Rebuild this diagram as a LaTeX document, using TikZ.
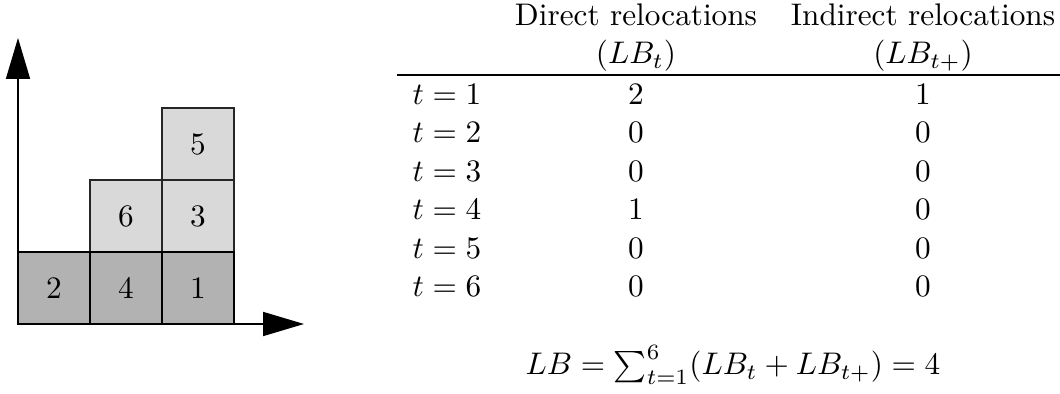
\documentclass[tikz,border=0pt]{standalone}
\usepackage{amsmath}
\usetikzlibrary{arrows.meta,positioning}
\tikzset{
  %% Stack slots
  slotUp/.style={draw=black!85, line width=0.4pt, fill=black!15,
    minimum size=23.04pt, inner sep=0pt},
  slotLow/.style={draw=black, line width=0.75pt, fill=black!30,
    minimum size=23.04pt, inner sep=0pt},
  %% Axes
  axisline/.style={line width=0.45pt, -{Triangle[length=13.1pt, width=7.7pt]}},
  %% Table cells
  cellc/.style={anchor=base, inner sep=0pt},
  celll/.style={anchor=base west, inner sep=0pt},
}
\begin{document}
\begin{tikzpicture}[x=0.32pt, y=-0.32pt]
\useasboundingbox (0,0) rectangle (1060,394);

%% Axes
\coordinate (orig) at (18,324);
\coordinate (ytip) at (18,38);
\coordinate (xtip) at (304,324);
\draw[axisline] (orig) -- (ytip);
\draw[axisline] (orig) -- (xtip);

%% Stack (columns at x = 54, 126, 198)
\node[slotUp]  (s6) at (126,216) {6};
\node[slotUp]  (s3) at (198,216) {3};
\node[slotUp]  (s5) at (198,144) {5};
\node[slotLow] (s2) at ( 54,288) {2};
\node[slotLow] (s4) at (126,288) {4};
\node[slotLow] (s1) at (198,288) {1};

%% Table header
\node[cellc] (hDir)  at (636,26) {Direct relocations};
\node[cellc] (hInd)  at (923,26) {Indirect relocations};
\node[cellc] (hDirB) at (636,64) {$(LB_t)$};
\node[cellc] (hIndB) at (923,64) {$(LB_{t+})$};
\draw[line width=0.4pt] (397,75) -- (1075,75);

%% Table rows
\foreach \t/\d/\i in {1/2/1, 2/0/0, 3/0/0, 4/1/0, 5/0/0, 6/0/0} {
  \pgfmathsetmacro{\yy}{104.5+38.4*(\t-1)}
  \node[celll] (row\t) at (412,\yy) {$t=\t$};
  \node[cellc] (dir\t) at (636,\yy) {$\d$};
  \node[cellc] (ind\t) at (923,\yy) {$\i$};
}

%% Total
\node[cellc] (total) at (733,375) {$LB=\sum_{t=1}^{6}(LB_t+LB_{t+})=4$};

\end{tikzpicture}
\end{document}
